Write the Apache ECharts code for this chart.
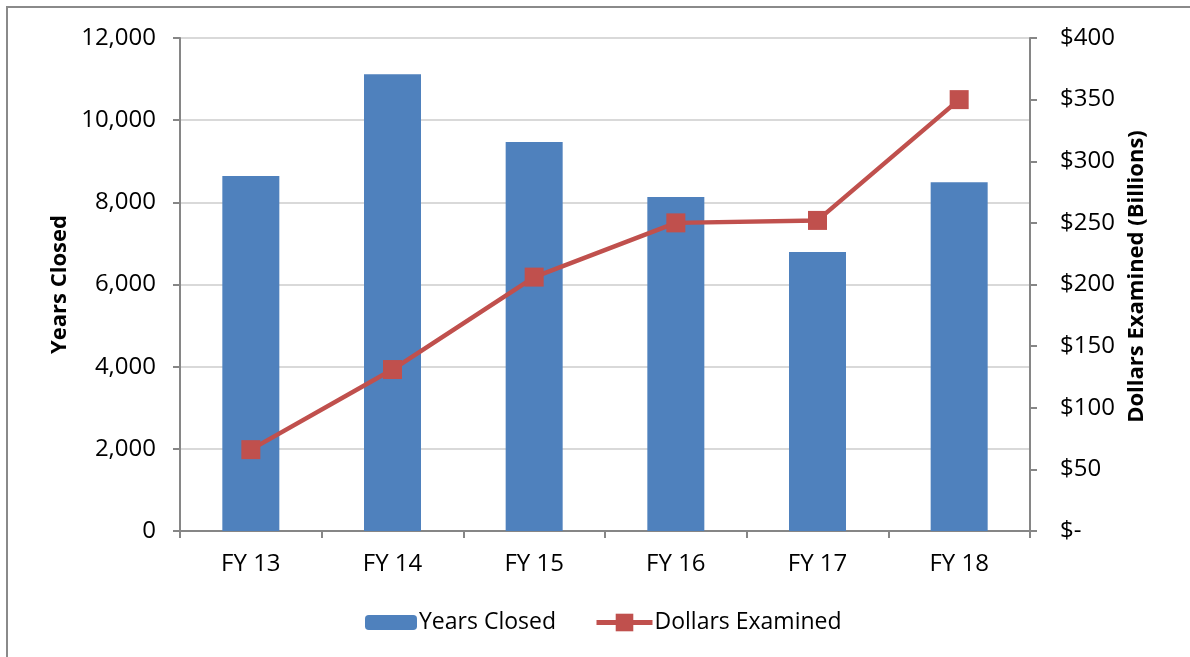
<!DOCTYPE html>
<html>
<head>
<meta charset="utf-8">
<script src="https://cdn.jsdelivr.net/npm/echarts@6/dist/echarts.min.js"></script>
<style>
  html, body { margin: 0; padding: 0; background: #fff; }
  #chart { width: 1190px; height: 657px; }
</style>
</head>
<body>
<div id="chart"></div>
<script>
// Chart data
const categories = ['FY 13', 'FY 14', 'FY 15', 'FY 16', 'FY 17', 'FY 18'];
const yearsClosed = [8640, 11120, 9470, 8130, 6790, 8490];
const dollarsExamined = [66, 131, 206, 250, 252, 350];

const FONT = '"Open Sans", Lato, sans-serif';
const AXIS_GRAY = '#868686';
const BAR_COLOR = '#4f81bd';
const LINE_COLOR = '#c0504d';

const chart = echarts.init(document.getElementById('chart'), null, { renderer: 'canvas' });

const legendText = { fontFamily: FONT, fontSize: 23, color: '#000', padding: [0, 0, 0, -3] };

chart.setOption({
  animation: false,
  backgroundColor: '#fff',
  textStyle: { fontFamily: FONT, color: '#000' },
  graphic: [{
    type: 'rect',
    shape: { x: 7, y: 7, width: 1200, height: 700 },
    style: { fill: 'none', stroke: '#8a8a8a', lineWidth: 2 },
    silent: true
  }],
  grid: { left: 180, right: 160, top: 38, bottom: 126 },
  legend: [
    {
      left: 365,
      top: 611,
      padding: 0,
      itemWidth: 52,
      itemHeight: 15,
      textStyle: legendText,
      data: ['Years Closed']
    },
    {
      left: 594,
      top: 611,
      padding: 0,
      itemWidth: 56,
      itemHeight: 22,
      textStyle: legendText,
      data: [{
        name: 'Dollars Examined',
        lineStyle: { width: 5, color: LINE_COLOR }
      }]
    }
  ],
  xAxis: {
    type: 'category',
    data: categories,
    axisLine: { lineStyle: { color: AXIS_GRAY, width: 2 } },
    axisTick: { show: true, length: 7, alignWithLabel: false, lineStyle: { color: AXIS_GRAY, width: 2 } },
    axisLabel: { fontFamily: FONT, fontSize: 24, color: '#000', margin: 21 }
  },
  yAxis: [
    {
      type: 'value',
      min: 0,
      max: 12000,
      interval: 2000,
      name: 'Years Closed',
      nameLocation: 'middle',
      nameGap: 108,
      nameRotate: 90,
      nameTextStyle: { fontFamily: FONT, fontSize: 22, fontWeight: 'bold', color: '#000' },
      axisLine: { show: true, lineStyle: { color: AXIS_GRAY, width: 2 } },
      axisTick: { show: true, length: 7, lineStyle: { color: AXIS_GRAY, width: 2 } },
      axisLabel: {
        fontFamily: FONT, fontSize: 24, color: '#000', margin: 24,
        formatter: v => v.toLocaleString('en-US')
      },
      splitLine: { lineStyle: { color: '#d9d9d9', width: 2 } }
    },
    {
      type: 'value',
      min: 0,
      max: 400,
      interval: 50,
      position: 'right',
      name: 'Dollars Examined (Billions)',
      nameLocation: 'middle',
      nameGap: 96,
      nameRotate: 90,
      nameTextStyle: {
        fontFamily: FONT, fontSize: 22, fontWeight: 'bold', color: '#000',
        padding: [0, 0, 0, 16]
      },
      axisLine: { show: true, lineStyle: { color: AXIS_GRAY, width: 2 } },
      axisTick: { show: true, length: 7, lineStyle: { color: AXIS_GRAY, width: 2 } },
      axisLabel: {
        fontFamily: FONT, fontSize: 24, color: '#000', margin: 30,
        formatter: v => v === 0 ? '$-' : '$' + v
      },
      splitLine: { show: false }
    }
  ],
  series: [
    {
      name: 'Years Closed',
      type: 'bar',
      data: yearsClosed,
      barWidth: 57,
      itemStyle: { color: BAR_COLOR }
    },
    {
      name: 'Dollars Examined',
      type: 'line',
      yAxisIndex: 1,
      data: dollarsExamined,
      symbol: 'rect',
      symbolSize: 19,
      showSymbol: true,
      lineStyle: { color: LINE_COLOR, width: 4.5 },
      itemStyle: { color: LINE_COLOR }
    }
  ]
});
</script>
</body>
</html>
